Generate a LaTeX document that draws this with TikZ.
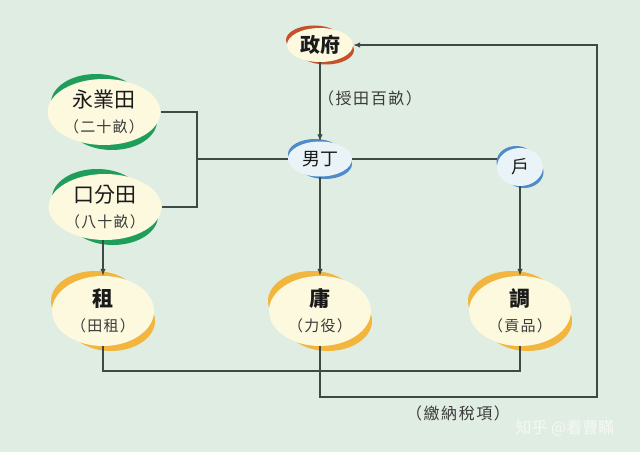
\documentclass[tikz,border=0pt]{standalone}
\usepackage{fontspec}
\setmainfont{Noto Sans CJK TC}
\usetikzlibrary{shapes.geometric,arrows.meta}
\definecolor{bgc}{HTML}{E0EDE2}
\definecolor{cream}{HTML}{FCF9DF}
\definecolor{bluefill}{HTML}{EAF3F8}
\definecolor{redc}{HTML}{C4512B}
\definecolor{greenc}{HTML}{1E9E5A}
\definecolor{bluec}{HTML}{4D8BC9}
\definecolor{yellowc}{HTML}{F2B53E}
\definecolor{linec}{HTML}{3E4A44}
\definecolor{txt}{HTML}{1A1A1A}
\definecolor{subtxt}{HTML}{3A3A3A}
\definecolor{wmark}{HTML}{F6F8F6}
\pgfdeclarelayer{bg}
\pgfdeclarelayer{cres}
\pgfdeclarelayer{lines}
\pgfsetlayers{bg,cres,lines,main}
% #1 node, #2 #3 radii of the crescent ellipse, #4 #5 offset, #6 colour
\newcommand\crescents[6]{%
  \begin{pgfonlayer}{cres}
    \fill[#6] ([shift={(-#4,-#5)}]#1.center) ellipse[x radius=#2, y radius=#3];
    \fill[#6] ([shift={(#4,#5)}]#1.center) ellipse[x radius=#2, y radius=#3];
  \end{pgfonlayer}}
\newcommand\subline[1]{\textcolor{subtxt}{\addfontfeature{LetterSpace=8}#1}}
\begin{document}
\begin{tikzpicture}[x=1pt,y=-1pt,
  blob/.style={ellipse, inner sep=0pt, align=center, text=txt},
  bigblob/.style={blob, fill=cream, minimum width=104pt, minimum height=66pt,
    font=\fontsize{15}{25}\selectfont},
  conn/.style={draw=linec, line width=1.2pt},
  arr/.style={conn, -{Latex[length=7pt,width=5.5pt]}},
  lbl/.style={text=subtxt, font=\fontsize{16}{18}\selectfont\addfontfeature{LetterSpace=10}, inner sep=0pt}]
\begin{pgfonlayer}{bg}
  \fill[bgc] (0,0) rectangle (640,452);
\end{pgfonlayer}
\useasboundingbox (0,0) rectangle (640,452);

% nodes
\node[blob, fill=cream, minimum width=66pt, minimum height=34pt,
  font=\fontsize{20}{24}\selectfont\bfseries] (zf) at (320,45) {政府};
\crescents{zf}{28}{14.5}{6}{5}{redc}
\node[blob, fill=bluefill, minimum width=64pt, minimum height=35pt,
  font=\fontsize{18}{22}\selectfont] (ding) at (320,159) {男丁};
\crescents{ding}{27}{15}{5}{5}{bluec}
\node[blob, fill=bluefill, minimum width=46pt, minimum height=38pt,
  font=\fontsize{18}{22}\selectfont] (hu) at (520,167) {戶};
\crescents{hu}{19.5}{16}{4}{5}{bluec}

\node[bigblob] (yyt) at (104,112)
  {{\fontsize{21}{25}\selectfont 永業田}\\\subline{（二十畝）}};
\crescents{yyt}{45}{29}{8}{9}{greenc}
\node[bigblob] (kft) at (105,207)
  {{\fontsize{21}{25}\selectfont 口分田}\\\subline{（八十畝）}};
\crescents{kft}{45}{29}{8}{9}{greenc}

\node[bigblob, minimum width=102pt, minimum height=70pt] (zu) at (103,311)
  {{\fontsize{21}{25}\selectfont\bfseries 租}\\\subline{（田租）}};
\crescents{zu}{44}{30}{8}{10}{yellowc}
\node[bigblob, minimum width=102pt, minimum height=70pt] (yo) at (320,311)
  {{\fontsize{21}{25}\selectfont\bfseries 庸}\\\subline{（力役）}};
\crescents{yo}{44}{30}{8}{10}{yellowc}
\node[bigblob, minimum width=102pt, minimum height=70pt] (di) at (520,311)
  {{\fontsize{21}{25}\selectfont\bfseries 調}\\\subline{（貢品）}};
\crescents{di}{44}{30}{8}{10}{yellowc}

% labels
\node[lbl] (l1) at (370,98) {（授田百畝）};
\node[lbl] (l2) at (458,413) {（繳納稅項）};
\node[text=wmark, font=\fontsize{16}{18}\selectfont, inner sep=0pt] (wm) at (565,428) {知乎 @看曹瞞};

% helper coordinates
\coordinate (brk) at (197,159);
\coordinate (j1) at (520,371);
\coordinate (c1) at (597,397);

% connectors
\begin{pgfonlayer}{lines}
  \draw[arr] (zf.south) -- (ding.north);
  \draw[conn] (yyt.east) -| (brk) |- (kft.east);
  \draw[conn] (brk) -- (ding.west);
  \draw[conn] (ding.east) -- (ding.east -| hu.west);
  \draw[arr] (zu.north |- kft.south) -- (zu.north);
  \draw[arr] (ding.south) -- (yo.north);
  \draw[arr] (hu.south) -- (di.north);
  \draw[conn] (zu.south) |- (j1) -- (di.south);
  \draw[arr] (yo.south) |- (c1) |- (zf.east);
\end{pgfonlayer}
\end{tikzpicture}
\end{document}
